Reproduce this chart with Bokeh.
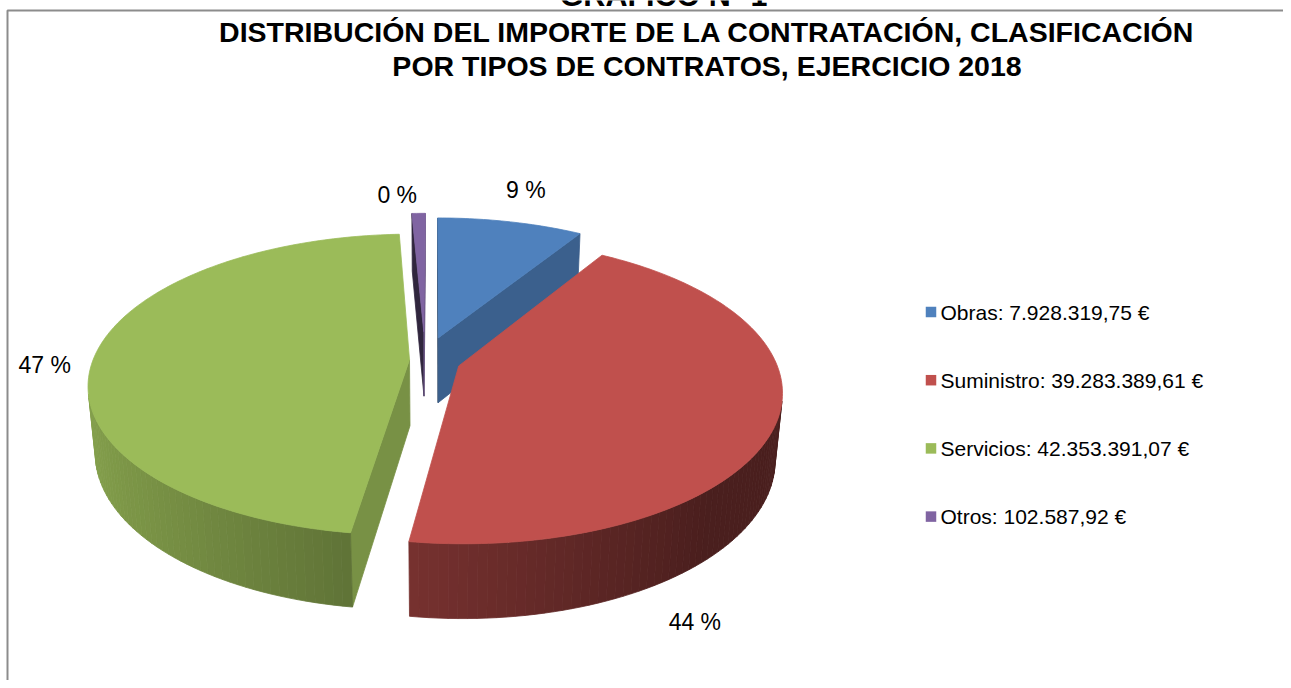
import math
from bokeh.plotting import figure
from bokeh.models import Range1d, ColumnDataSource
from bokeh.embed import file_html
from bokeh.resources import INLINE
from bokeh.core.properties import value

# ---------------- data ----------------
chart_caption = "GRÁFICO Nº 1"
title_lines = ["DISTRIBUCIÓN DEL IMPORTE DE LA CONTRATACIÓN, CLASIFICACIÓN",
               "POR TIPOS DE CONTRATOS, EJERCICIO 2018"]
categories = ["Obras", "Suministro", "Servicios", "Otros"]
amounts = [7928319.75, 39283389.61, 42353391.07, 102587.92]
amount_labels = ["7.928.319,75 €", "39.283.389,61 €", "42.353.391,07 €", "102.587,92 €"]
pct_labels = ["9 %", "44 %", "47 %", "0 %"]
colors = ["#4F81BD", "#C0504D", "#9BBB59", "#8064A2"]

# ---------------- style / 3D view ----------------
FONT = "Liberation Sans"
CX, CY = 434.0, 361.0          # screen position of pie centre (top face)
K = 317.0                      # px per radius at centre depth
SIN_PHI, COS_PHI = 0.4634, 0.886
DIST = 5.37                    # camera distance in radii
H = 0.24                       # pie thickness in radii
EXPLODE = [(0.012, 0.165), (0.076, -0.03), (-0.079, 0.012), (-0.035, 0.21)]
MIN_ANGLE = 2.9                # minimum drawn angle for tiny slices
LABEL_PARAMS = [(0.0, 1.25, 0.033), (31.3, 1.05, -0.385), (0.0, 1.17, -0.046), (-3.8, 1.2, -0.005)]
CAM = (0.0, -DIST * COS_PHI, DIST * SIN_PHI)


def proj(X, Y, Z):
    depth = DIST + Y * COS_PHI - Z * SIN_PHI
    g = DIST / depth
    return CX + K * X * g, CY - K * (Y * SIN_PHI + Z * COS_PHI) * g


def shade(hex_color, k):
    h = hex_color.lstrip("#")
    r, g, b = (int(h[i:i + 2], 16) for i in (0, 2, 4))
    k = max(0.0, min(1.0, k))
    return "#%02x%02x%02x" % (int(r * k), int(g * k), int(b * k))


def visible(normal, point):
    v = (CAM[0] - point[0], CAM[1] - point[1], CAM[2] - point[2])
    return normal[0] * v[0] + normal[1] * v[1] + normal[2] * v[2] > 0


def dirv(deg):
    a = math.radians(deg)
    return math.sin(a), math.cos(a)


# angles (clockwise from 12 o'clock)
total = sum(amounts)
raw = [a / total * 360.0 for a in amounts]
small = [r < MIN_ANGLE for r in raw]
fixed = MIN_ANGLE * sum(small)
big_sum = sum(r for r, s in zip(raw, small) if not s)
draw_ang = [MIN_ANGLE if s else r * (360.0 - fixed) / big_sum for r, s in zip(raw, small)]
starts, ends = [], []
acc = 0.0
for a in draw_ang:
    starts.append(acc)
    acc += a
    ends.append(acc)


def slice_depth(i):
    ox, oy = EXPLODE[i]
    m = (starts[i] + ends[i]) / 2
    return oy + 0.5 * dirv(m)[1]


order = sorted(range(len(amounts)), key=slice_depth, reverse=True)

xs, ys, fills = [], [], []
for i in order:
    s, t = starts[i], ends[i]
    ox, oy = EXPLODE[i]
    col = colors[i]

    def rim(th, z):
        sx, sy = dirv(th)
        return proj(ox + sx, oy + sy, z)

    apex_t = proj(ox, oy, 0)
    apex_b = proj(ox, oy, -H)
    for th, nang in ((s, s - 90.0), (t, t + 90.0)):
        n = dirv(nang)
        sx, sy = dirv(th)
        pt = (ox + 0.5 * sx, oy + 0.5 * sy, -H / 2)
        if visible((n[0], n[1], 0.0), pt):
            p1, p2 = rim(th, 0), rim(th, -H)
            xs.append([apex_t[0], p1[0], p2[0], apex_b[0]])
            ys.append([apex_t[1], p1[1], p2[1], apex_b[1]])
            fills.append(shade(col, 0.58 + 0.2 * n[0]))
    nseg = max(2, int(math.ceil((t - s) / 1.5)))
    for j in range(nseg):
        a0 = s + (t - s) * j / nseg
        a1 = s + (t - s) * (j + 1) / nseg
        m = (a0 + a1) / 2
        n = dirv(m)
        pt = (ox + n[0], oy + n[1], -H / 2)
        if visible((n[0], n[1], 0.0), pt):
            q0, q1, q2, q3 = rim(a0, 0), rim(a1, 0), rim(a1, -H), rim(a0, -H)
            xs.append([q0[0], q1[0], q2[0], q3[0]])
            ys.append([q0[1], q1[1], q2[1], q3[1]])
            fills.append(shade(col, max(0.39, 0.58 + 0.28 * (-n[0]))))
    npts = max(2, int(math.ceil((t - s) / 1.0)))
    tx, ty = [apex_t[0]], [apex_t[1]]
    for j in range(npts + 1):
        q = rim(s + (t - s) * j / npts, 0)
        tx.append(q[0])
        ty.append(q[1])
    xs.append(tx)
    ys.append(ty)
    fills.append(col)

# ---------------- figure ----------------
W, Hh = 1283, 680
p = figure(width=W, height=Hh, x_range=Range1d(0, W), y_range=Range1d(Hh, 0),
           output_backend="svg", toolbar_location=None, min_border=0,
           x_axis_location=None, y_axis_location=None)
p.grid.visible = False
p.outline_line_color = None
p.background_fill_color = "white"
p.border_fill_color = "white"

# chart area border (top and left visible)
p.line(x=[7, 7, W], y=[Hh, 10, 10], line_color="#8c8c8c", line_width=2)

# caption cut off above the chart area (as in the original)
p.text(x=[663], y=[-6], text=[chart_caption], text_font=value(FONT),
       text_font_style="bold", text_font_size="30.5px", text_align="center",
       text_baseline="middle", text_color="black")

# title
p.text(x=[706.5, 706.5], y=[31, 65], text=title_lines, text_font=value(FONT),
       text_font_style="bold", text_font_size="28.5px", text_align="center",
       text_baseline="middle", text_color="black")

src = ColumnDataSource(dict(xs=xs, ys=ys, fill=fills))
p.patches(xs="xs", ys="ys", source=src, fill_color="fill", line_color="fill", line_width=0.8)

# data labels
lx, ly = [], []
for i in range(len(amounts)):
    dth, r, z = LABEL_PARAMS[i]
    m = (starts[i] + ends[i]) / 2 + dth
    sx, sy = dirv(m)
    ox, oy = EXPLODE[i]
    q = proj(ox + r * sx, oy + r * sy, z)
    lx.append(q[0])
    ly.append(q[1])
p.text(x=lx, y=ly, text=pct_labels, text_font=value(FONT), text_font_size="23px",
       text_align="center", text_baseline="middle", text_color="black")

# legend
LEG_X, LEG_Y0, LEG_DY = 940, 311.5, 68.2
leg_y = [LEG_Y0 + LEG_DY * i for i in range(len(categories))]
p.rect(x=[LEG_X - 9.5] * len(categories), y=leg_y, width=10.5, height=10.5,
       fill_color=colors, line_color=None)
p.text(x=[LEG_X] * len(categories), y=leg_y,
       text=["%s: %s" % (c, a) for c, a in zip(categories, amount_labels)],
       text_font=value(FONT), text_font_size="21px", text_align="left",
       text_baseline="middle", text_color="black")

open("out.html", "w").write(file_html(p, INLINE))
